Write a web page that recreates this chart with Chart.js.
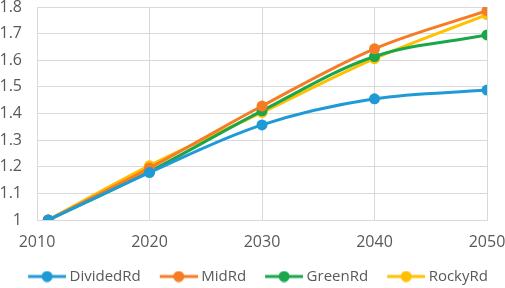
<!DOCTYPE html>
<html>
<head>
<meta charset="utf-8">
<script src="https://cdn.jsdelivr.net/npm/chart.js@4.4.1/dist/chart.umd.min.js"></script>
<style>
html,body{margin:0;padding:0;background:#fff;}
#wrap{width:505px;height:288px;position:relative;}
</style>
</head>
<body>
<div id="wrap"><canvas id="c" width="505" height="288"></canvas></div>
<script>
const years = [2011, 2020, 2030, 2040, 2050];
const seriesNames = ["DividedRd", "MidRd", "GreenRd", "RockyRd"];
const dividedRd = [1.0, 1.178, 1.357, 1.455, 1.488];
const midRd = [1.0, 1.195, 1.428, 1.643, 1.786];
const greenRd = [1.0, 1.182, 1.410, 1.614, 1.695];
const rockyRd = [1.0, 1.204, 1.404, 1.606, 1.771];
const colors = ["#1f9ad6", "#f57c24", "#1aa64a", "#ffc000"];

// legend marker: transparent left part, line + dot in the right 38px
const BOXW = 45, IMGW = 53;
function legendImg(color) {
  const cv = document.createElement('canvas');
  cv.width = IMGW; cv.height = 12;
  const g = cv.getContext('2d');
  g.strokeStyle = color; g.lineWidth = 3;
  g.beginPath(); g.moveTo(IMGW - 38, 6); g.lineTo(IMGW, 6); g.stroke();
  g.fillStyle = color;
  g.beginPath(); g.arc(IMGW - 19, 6, 5.5, 0, Math.PI * 2); g.fill();
  return cv;
}

const values = [dividedRd, midRd, greenRd, rockyRd];
const datasets = values.map((vals, i) => ({
  label: seriesNames[i],
  data: vals.map((v, j) => ({x: years[j], y: v})),
  borderColor: colors[i],
  backgroundColor: colors[i],
  borderWidth: 3,
  pointRadius: 5.5,
  pointHoverRadius: 5.5,
  pointBorderWidth: 0,
  tension: 0.35,
  pointStyle: 'circle',
  legendImage: legendImg(colors[i])
}));

const legendFix = {
  id: 'legendFix',
  beforeLayout(chart) {
    const lg = chart.legend;
    if (lg && !lg._patched) {
      const orig = lg.fit;
      lg.fit = function() {
        const mw = this.maxWidth;
        this.maxWidth = 2000;
        orig.call(this);
        this.maxWidth = mw;
        this.width = mw;
        this.height = 27;
      };
      lg._patched = true;
    }
  }
};

const FONT = 'Open Sans';
new Chart(document.getElementById('c'), {
  type: 'line',
  data: { datasets },
  plugins: [legendFix],
  options: {
    responsive: false,
    animation: false,
    layout: { padding: { top: 7, right: 0, left: 0, bottom: 0 } },
    plugins: {
      tooltip: { enabled: false },
      legend: {
        position: 'bottom',
        labels: {
          usePointStyle: true,
          pointStyleWidth: BOXW,
          padding: 8,
          color: '#595959',
          font: { family: FONT, size: 15 },
          generateLabels(chart) {
            return chart.data.datasets.map((d, i) => ({
              text: d.label,
              fillStyle: d.backgroundColor,
              strokeStyle: d.borderColor,
              lineWidth: 0,
              pointStyle: d.legendImage,
              fontColor: '#595959',
              datasetIndex: i,
              hidden: false
            }));
          }
        }
      }
    },
    scales: {
      x: {
        type: 'linear',
        min: 2010, max: 2050,
        ticks: { stepSize: 10, color: '#595959', font: { family: FONT, size: 16 }, padding: 13,
          maxRotation: 0, callback: v => String(v) },
        grid: { color: '#d9d9d9', lineWidth: 1, drawTicks: false },
        border: { color: '#d9d9d9' },
        afterFit(s) { s.height = 41; s.paddingRight = 18; s.paddingLeft = 0; }
      },
      y: {
        min: 1, max: 1.8,
        ticks: { stepSize: 0.1, color: '#595959', font: { family: FONT, size: 16 }, padding: 15,
          callback: v => String(Math.round(v * 10) / 10) },
        grid: { color: '#d9d9d9', lineWidth: 1, drawTicks: false },
        border: { display: false },
        afterFit(s) { s.width = 37; s.paddingTop = 0; s.paddingBottom = 0; }
      }
    }
  }
});
</script>
</body>
</html>
